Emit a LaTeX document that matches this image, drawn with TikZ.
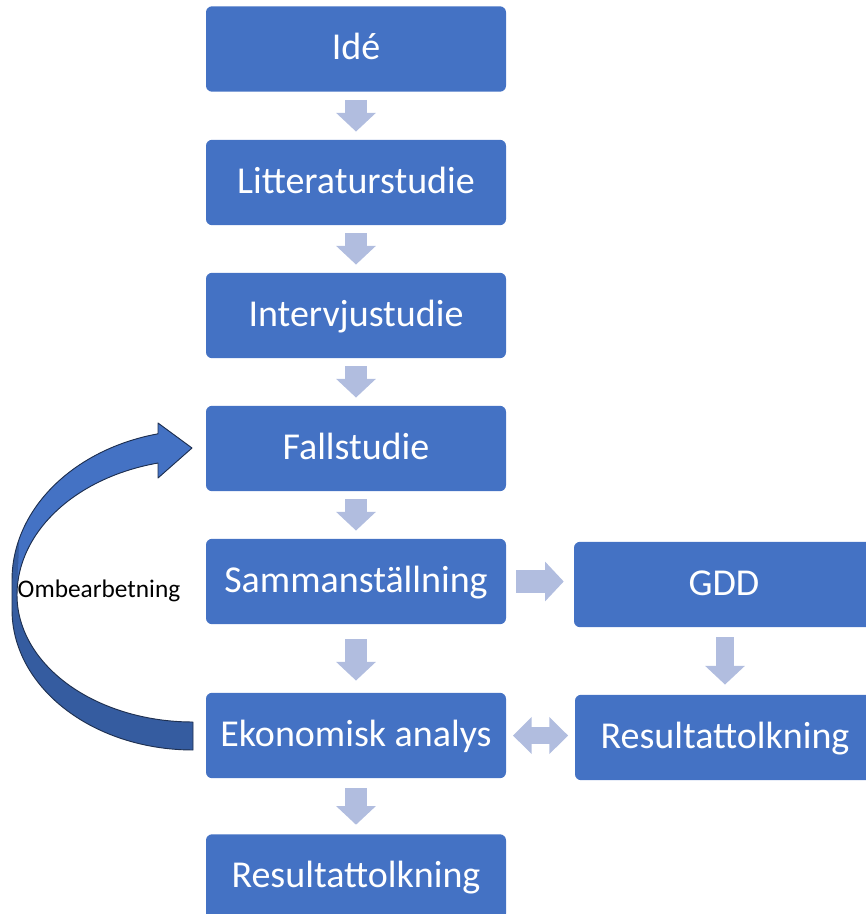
\documentclass[tikz,border=0pt]{standalone}
\usepackage{fontspec}
\setmainfont{Carlito}
\usetikzlibrary{arrows.meta}
\definecolor{boxblue}{HTML}{4472C4}
\definecolor{arrowblue}{HTML}{B1BDDF}
\definecolor{bendblue}{HTML}{355CA0}
\definecolor{bendline}{HTML}{1F3050}
% outline of the bent arrow (picture units, y downwards)
\newcommand{\bendoutline}{(192,448) -- (158,423) -- (158,434)
  -- plot[domain=257.09:180,samples=50] ({200+188*cos(\x)},{580+150*sin(\x)})
  -- (12,610)
  -- plot[domain=180:90,samples=50] ({193+181*cos(\x)},{610+140*sin(\x)})
  -- (193,722)
  -- plot[domain=90:180,samples=50] ({193+176*cos(\x)},{595+127*sin(\x)})
  -- plot[domain=180:256.73,samples=50] ({200+183*cos(\x)},{595+135.6*sin(\x)})
  -- (158,478) -- cycle}

\begin{document}
\begin{tikzpicture}[x=0.75pt,y=-0.75pt,
    box/.style={fill=boxblue,text=white,rounded corners=4.5pt,
      minimum width=225pt,minimum height=64pt,inner sep=0pt,
      text height=21pt,text depth=5pt,font=\fontsize{28.5}{34}\selectfont},
    flow/.style={arrowblue,line width=17pt,
      -{Triangle[length=14pt,width=29pt]},shorten <=6pt,shorten >=6pt},
    twoway/.style={arrowblue,line width=13pt,
      {Triangle[length=14pt,width=27pt]}-{Triangle[length=14pt,width=27pt]},
      shorten <=5pt,shorten >=5pt}]
    \useasboundingbox (0,0) rectangle (866,914);
    % main column
    \node[box] (ide) at (356,49) {Idé};
    \node[box] (lit) at (356,182.5) {Litteraturstudie};
    \node[box] (interv) at (356,315.5) {Intervjustudie};
    \node[box] (fall) at (356,448.5) {Fallstudie};
    \node[box] (samm) at (356,581.5) {Sammanställning};
    \node[box] (ekon) at (356,735.5) {Ekonomisk analys};
    \node[box] (res) at (356,877) {Resultattolkning};
    % side column
    \node[box] (gdd) at (724,584.5) {GDD};
    \node[box] (restwo) at (725,737.5) {Resultattolkning};
    \foreach \a/\b in {ide/lit,lit/interv,interv/fall,fall/samm}{
      \draw[flow] (\a) -- (\b);
    }
    \draw[flow,shorten <=11pt,shorten >=9pt] (samm) -- (ekon);
    \draw[flow,shorten <=7.5pt,shorten >=7pt] (ekon) -- (res);
    \draw[flow,shorten <=7.5pt,shorten >=7.5pt] (samm.east) -- (samm.east -| gdd.west);
    \draw[flow,line width=14pt,shorten <=7.5pt,shorten >=7.5pt] (gdd.south -| restwo.north) -- (restwo.north);
    \draw[twoway] (ekon.east) -- (ekon.east -| restwo.west);
    % bent arrow back to Fallstudie
    \fill[bendblue] \bendoutline;
    \fill[boxblue] (192,448) -- (158,423) -- (158,434)
      -- plot[domain=257.09:196,samples=50] ({200+188*cos(\x)},{580+150*sin(\x)})
      -- (17,595)
      -- plot[domain=180:256.73,samples=50] ({200+183*cos(\x)},{595+135.6*sin(\x)})
      -- (158,478) -- cycle;
    \draw[bendline,line width=0.7pt,line join=round] \bendoutline;
    \node[font=\fontsize{19}{23}\selectfont] (ombe) at (99,591) {Ombearbetning};
  \end{tikzpicture}
\end{document}
